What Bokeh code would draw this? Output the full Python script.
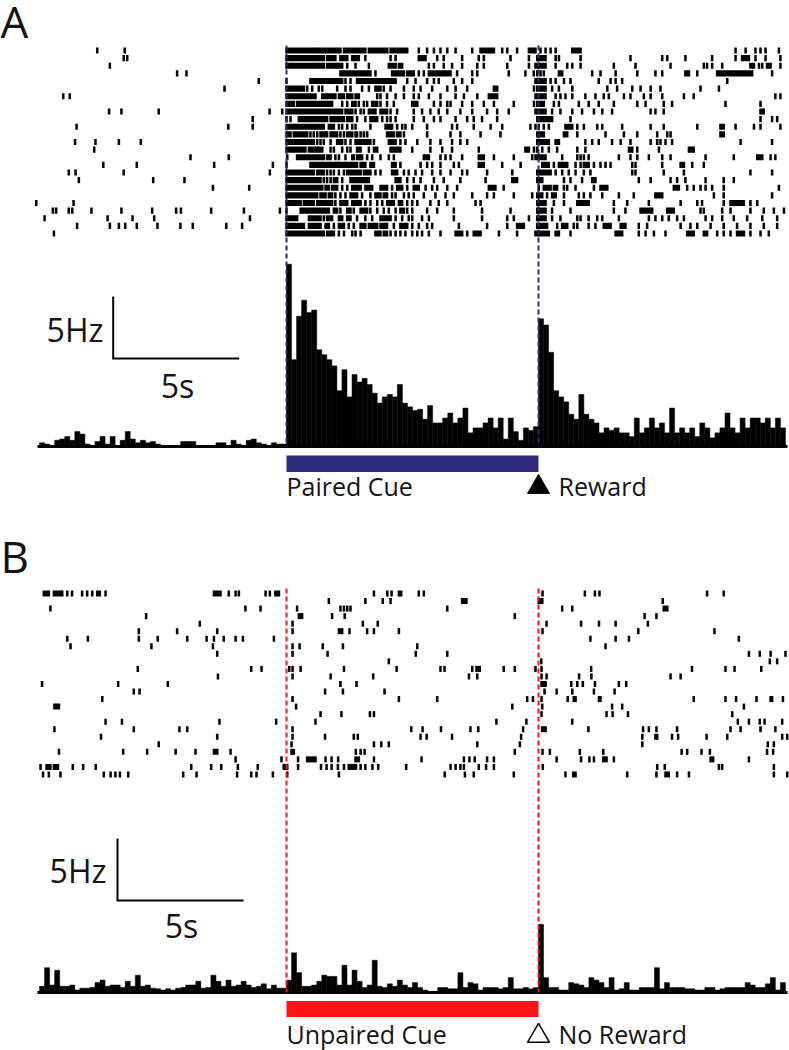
import numpy as np
from bokeh.plotting import figure
from bokeh.models import Range1d
from bokeh.core.properties import value
from bokeh.embed import file_html
from bokeh.resources import INLINE

# ---------------- data ----------------
cue_onset = 0.0
cue_offset = 10.0
reward_time = 10.0
bin_width = 0.2
first_bin = -9.8
scale_hz = 5.0
scale_s = 5.0

# PSTH (Hz), 0.2 s bins from -9.8 s
psth_a_pre = [0.3, 0.2, 0, 0.5, 0.6, 0.8, 0.5, 1.2, 1.0, 0.2, 0, 0.4, 0.8, 0.2, 0.8, 0, 0.5, 1.2, 0.6, 0.3,
              0.5, 0.3, 0.4, 0.2, 0, 0, 0, 0, 0.4, 0.4, 0.4, 0, 0, 0, 0, 0.3, 0.3, 0, 0.5, 0.2,
              0, 0.5, 0.6, 0.3, 0.2, 0, 0.3, 0.2, 0.2]
psth_a_cue = [14.7, 7.0, 10.5, 11.8, 10.8, 11.0, 7.8, 7.4, 7.0, 6.5, 4.5, 6.2, 4.0, 5.8, 5.2, 5.5, 5.0, 4.3, 3.5, 4.0,
              4.2, 4.0, 5.0, 3.5, 3.2, 2.9, 3.0, 2.2, 3.3, 1.9, 1.9, 2.3, 2.7, 1.9, 2.3, 3.1, 1.1, 1.5, 1.5, 1.9,
              2.3, 1.5, 2.3, 0.6, 2.3, 1.2, 0.5, 1.5, 1.3, 1.6]
psth_a_post = [10.3, 9.8, 7.6, 4.5, 4.0, 3.6, 2.6, 2.2, 4.2, 2.6, 2.2, 1.9, 1.1, 1.5, 1.3, 1.5, 1.1, 1.1, 0.8, 2.3,
               1.1, 1.5, 2.3, 1.5, 1.9, 1.1, 3.1, 1.1, 1.5, 1.1, 1.5, 0.8, 1.9, 1.5, 0.7, 1.1, 1.5, 2.7, 1.5, 1.1,
               2.3, 1.5, 2.3, 2.3, 1.9, 2.3, 1.5, 2.3, 1.5]
psth_b_pre = [0.5, 2.0, 0.6, 1.8, 0.5, 0.5, 0.6, 0.2, 0.35, 0.35, 0.4, 0.8, 1.0, 0.5, 0.6, 0.6, 0.4, 0.9, 0.5, 1.4,
              0.5, 0.6, 0.35, 0.3, 0.2, 0.3, 0.2, 0.35, 0.4, 0.6, 0.6, 0.9, 0.35, 0.4, 1.4, 0.9, 0.5, 1.0, 0.5, 0.6,
              0.9, 0.6, 0.4, 0.5, 0.7, 0.3, 0.6, 0.35, 0.35]
psth_b_cue = [1.0, 3.2, 1.6, 0.5, 0.5, 0.6, 0.9, 1.4, 1.3, 1.3, 0.6, 2.2, 0.6, 1.8, 0.9, 0.4, 0.6, 2.6, 0.5, 0.4,
              0.7, 0.5, 1.0, 0.6, 0.4, 0.8, 0.4, 0.2, 0, 0, 0.4, 0.4, 0.3, 0.3, 1.6, 0.4, 0.8, 0.7, 0.2, 0.4,
              0.4, 0.4, 0.3, 0.4, 1.2, 0.3, 0.3, 0.4, 0.3, 0.4]
psth_b_post = [5.5, 1.2, 0.4, 0.4, 0.2, 0.2, 0.8, 0.7, 0.6, 0.4, 1.2, 1.0, 0.8, 0.4, 1.2, 0.2, 0.3, 0.8, 0.2, 0.2,
               0.4, 0.4, 0.4, 2.0, 0.3, 0.8, 0.4, 0.4, 0.4, 0.3, 0.3, 0.2, 0.2, 0.4, 0.4, 0.2, 0.3, 0.4, 0.4, 0.4,
               0.4, 0.8, 0.6, 0.4, 0.4, 0.7, 1.2, 0.2, 0.8]

# Raster, panel A (paired cue): single spikes (s) and dense bursts [start, end] per trial
raster_a_spikes = [
    [-7.51, -6.42, 5.25, 5.58, 5.85, 6.11, 6.38, 6.71, 7.37, 8.56, 8.76, 9.15, 9.88, 10.08, 10.28, 10.48, 10.68, 17.82, 18.22, 18.61, 18.81, 19.01, 19.54],
    [-6.46, -6.32, 3.13, 4.13, 4.33, 5.98, 6.24, 6.97, 7.63, 7.83, 8.89, 9.62, 10.68, 10.81, 11.67, 13.65, 14.91, 15.11, 15.83, 16.89, 17.82, 18.61, 19.01, 19.6],
    [-7.01, 2.41, 2.74, 3.27, 5.65, 5.85, 6.24, 6.57, 6.97, 7.57, 7.83, 8.76, 9.62, 10.68, 11.14, 11.34, 11.67, 12.99, 13.85, 15.24, 16.56, 16.69, 16.89, 17.29, 18.75, 18.88, 19.6],
    [-4.34, -3.97, 3.53, 5.25, 5.45, 6.77, 7.37, 7.57, 8.82, 9.48, 9.81, 9.95, 10.08, 10.21, 12.13, 12.46, 13.06, 13.92, 14.64, 14.91, 16.3, 19.27],
    [-1.1, 0.0, 2.34, 2.54, 4.79, 5.12, 5.58, 5.85, 6.04, 6.64, 6.97, 7.37, 10.48, 10.68, 11.01, 11.27, 12.39, 12.86, 13.06, 13.32, 17.49],
    [-2.46, 0.82, 1.02, 1.28, 1.42, 2.01, 2.34, 2.54, 3.0, 3.27, 3.86, 4.13, 4.66, 5.05, 5.32, 5.78, 6.38, 6.71, 7.17, 9.82, 10.54, 10.81, 11.34, 12.73, 13.12, 13.72, 14.05, 14.45, 14.84, 16.43, 17.16],
    [-8.86, -8.6, 3.6, 3.73, 3.99, 4.33, 4.66, 5.05, 5.25, 5.65, 6.11, 6.71, 7.04, 7.57, 10.68, 10.87, 11.07, 11.34, 11.86, 12.26, 12.59, 12.79, 13.39, 13.65, 14.18, 14.45, 14.91, 15.77, 16.16, 19.4, 19.6],
    [2.21, 2.41, 2.87, 3.07, 3.2, 3.73, 3.99, 4.26, 5.85, 6.11, 6.38, 6.51, 6.97, 7.37, 7.83, 8.23, 9.02, 9.82, 10.61, 10.81, 11.6, 11.99, 12.39, 12.99, 13.92, 14.25, 14.97, 15.3, 17.42, 18.81],
    [-7.04, -6.55, -5.07, -0.67, -0.17, 2.74, 2.94, 3.07, 4.13, 4.39, 5.05, 5.38, 5.71, 6.04, 6.38, 6.9, 7.37, 7.96, 8.36, 8.82, 10.54, 10.87, 11.34, 11.73, 12.2, 12.53, 12.92, 14.45, 14.64, 14.97],
    [-1.34, 0.0, 0.16, 2.8, 3.13, 3.8, 3.99, 4.13, 4.33, 5.05, 5.45, 5.85, 6.11, 6.71, 7.17, 7.43, 7.76, 8.36, 11.27, 18.81, 19.27, 19.47],
    [-8.33, -2.31, -1.34, 2.08, 2.21, 2.41, 2.61, 2.74, 3.33, 4.19, 4.39, 4.59, 4.72, 4.99, 5.58, 6.57, 6.77, 7.43, 8.1, 8.56, 9.68, 9.88, 10.01, 10.21, 10.41, 11.54, 11.8, 12.33, 12.53, 13.32, 14.45, 14.97, 16.3, 17.82, 18.55, 18.81, 19.6],
    [0.95, 1.08, 1.22, 2.14, 2.28, 2.74, 2.8, 2.94, 3.07, 3.2, 4.66, 5.58, 6.51, 6.9, 7.7, 8.49, 11.54, 12.66, 13.39, 13.92, 14.71, 15.11, 15.24],
    [-8.39, -7.58, -6.65, -5.78, 1.22, 1.35, 1.48, 1.75, 2.34, 2.54, 3.47, 4.52, 4.72, 5.19, 5.71, 6.11, 6.57, 6.9, 7.17, 11.86, 12.13, 12.39, 12.92, 13.26, 13.65, 14.45, 14.71, 14.84, 15.04, 15.3, 18.02, 19.27],
    [-7.63, 1.75, 1.88, 2.21, 2.41, 2.54, 3.27, 4.99, 5.71, 6.18, 6.57, 7.63, 9.82, 9.95, 10.15, 10.41, 10.74, 11.54, 11.86, 13.92, 14.78],
    [-3.81, -2.29, 0.03, 1.94, 2.08, 2.34, 2.61, 2.67, 3.2, 3.4, 3.73, 4.06, 4.26, 6.11, 6.31, 6.51, 6.97, 8.23, 9.02, 9.75, 10.94, 11.54, 11.67, 11.8, 11.99, 13.19, 13.65, 13.92, 14.38, 14.91, 15.24, 16.63, 17.75, 19.21, 19.4],
    [-7.27, -5.94, -2.87, -0.54, 0.0, 4.52, 5.32, 5.58, 5.78, 6.11, 6.64, 6.84, 8.56, 9.29, 10.61, 11.47, 11.67, 12.2, 12.46, 12.66, 12.86, 13.72, 13.85, 14.91, 16.1, 16.56],
    [-8.64, -8.37, -6.46, -0.66, 1.61, 1.75, 1.88, 2.08, 2.28, 3.53, 3.73, 4.66, 4.85, 5.12, 5.38, 5.78, 6.11, 6.51, 6.97, 7.17, 7.96, 8.96, 10.68, 10.94, 11.2, 11.47, 11.8, 12.06, 13.72, 13.85, 14.97, 15.77, 18.41, 19.27],
    [-8.24, -5.29, -4.05, 1.35, 1.48, 1.61, 1.75, 2.21, 4.79, 5.05, 5.32, 5.85, 6.24, 6.9, 7.9, 11.01, 11.27, 11.73, 13.98, 14.45, 15.24, 15.5, 15.83, 16.63, 17.35, 17.75],
    [-2.92, -1.48, 2.21, 2.41, 4.19, 4.79, 5.52, 5.78, 5.98, 6.38, 6.77, 8.62, 10.01, 11.01, 11.14, 11.47, 12.2, 15.9, 16.16, 16.43, 16.63, 16.89, 17.35, 19.54],
    [1.94, 2.14, 2.34, 3.0, 3.33, 4.19, 4.33, 4.66, 4.85, 5.05, 5.45, 5.91, 6.31, 6.64, 7.37, 7.96, 8.23, 9.02, 9.75, 10.34, 11.01, 11.6, 11.8, 12.06, 12.53, 13.19, 13.78, 16.96, 17.35, 19.27],
    [-9.93, -8.45, 1.94, 3.13, 3.33, 3.6, 3.8, 4.79, 4.99, 5.19, 5.71, 6.04, 6.38, 7.5, 7.7, 10.61, 11.01, 12.99, 13.52, 14.38, 15.64, 16.3, 16.49, 17.35, 18.41, 18.68],
    [-9.27, -9.14, -8.64, -8.5, -7.74, -6.55, -5.33, -4.38, -4.19, -2.99, -1.69, -0.26, 0.0, 2.14, 2.67, 3.33, 3.6, 3.86, 4.06, 4.33, 4.79, 4.99, 5.58, 5.98, 6.64, 7.76, 8.89, 10.54, 11.27, 12.99, 13.45, 16.43, 16.56, 17.29, 17.62, 18.41, 18.94, 19.34, 19.74],
    [-9.6, -7.1, -6.11, -5.25, -1.45, 1.48, 2.8, 3.13, 3.4, 4.33, 4.59, 4.85, 4.99, 5.38, 5.65, 6.64, 7.76, 8.76, 9.02, 9.62, 10.54, 10.87, 11.54, 11.67, 11.99, 12.33, 12.53, 13.19, 14.38, 14.64, 14.91, 15.17, 15.5, 15.77, 16.63, 16.89, 17.29, 17.75, 18.28, 18.88, 19.47],
    [-8.31, -7.01, -6.65, -6.4, -5.94, -5.12, -4.21, -3.72, -2.39, -1.76, 1.88, 2.47, 2.67, 4.26, 4.99, 5.25, 5.58, 5.78, 6.84, 7.96, 8.76, 10.74, 11.4, 11.54, 11.99, 12.26, 13.98, 14.31, 15.64, 16.03, 16.3, 16.83, 17.35, 17.88, 18.41, 18.94, 19.47],
    [-9.23, 2.08, 2.28, 2.61, 2.74, 2.94, 4.13, 4.33, 4.52, 4.72, 4.99, 5.19, 5.38, 5.65, 6.11, 7.17, 8.43, 9.15, 11.27, 13.98, 14.25, 14.58, 15.04, 17.09, 17.35, 17.62, 18.41, 18.81, 19.14],
]
raster_a_bursts = [
    [[0, 1.08], [1.15, 2.14], [2.28, 3.13], [3.27, 4.0], [4.13, 4.79], [7.7, 8.23], [9.62, 9.81], [11.34, 11.67]],
    [[0, 0.16], [0.22, 1.48], [1.61, 1.94], [2.14, 2.41], [2.61, 2.87], [5.25, 5.52], [9.95, 10.28], [18.08, 18.35]],
    [[0, 1.22], [1.28, 1.48], [1.61, 1.94], [2.01, 2.21], [4.06, 4.33], [4.46, 4.59], [9.88, 10.28], [18.41, 18.55], [19.07, 19.21]],
    [[2.14, 3.33], [4.19, 4.39], [4.46, 4.66], [4.79, 5.05], [5.65, 6.18], [6.24, 6.51], [10.81, 10.94], [15.83, 15.97], [17.09, 18.48]],
    [[0.95, 1.48], [1.55, 1.88], [1.94, 2.21], [2.8, 3.47], [3.53, 4.13], [4.19, 4.33], [9.88, 10.28]],
    [[0, 0.69], [3.53, 3.73], [8.23, 8.36], [9.95, 10.28]],
    [[0, 0.75], [0.82, 1.15], [1.42, 1.94], [2.08, 2.28], [2.41, 2.61], [2.74, 2.87], [8.03, 8.36], [9.88, 10.28]],
    [[0, 0.29], [0.42, 1.81], [2.61, 2.74], [3.4, 3.6], [4.99, 5.19], [9.95, 10.21]],
    [[0, 2.21], [2.34, 2.61], [3.27, 3.53], [3.73, 3.99], [9.88, 10.28], [18.81, 18.94]],
    [[0.49, 1.61], [1.75, 2.28], [2.41, 2.61], [3.33, 3.6], [9.95, 10.54]],
    [[0, 0.95], [1.02, 1.48], [1.68, 1.88], [3.93, 4.13], [11.07, 11.34], [17.22, 17.35]],
    [[0, 0.16], [0.29, 0.82], [1.35, 1.61], [1.75, 2.01], [2.41, 2.61], [3.99, 4.26], [4.39, 4.52], [9.95, 10.21], [11.01, 11.14], [17.22, 17.35]],
    [[0, 1.08], [2.01, 2.21], [2.74, 3.33], [4.06, 4.33], [9.95, 10.41], [10.68, 10.81]],
    [[0, 0.75], [0.89, 1.22], [1.28, 1.42], [2.8, 2.94], [3.47, 3.6], [4.13, 4.52], [9.48, 9.62], [13.59, 13.72], [15.97, 16.16]],
    [[0.42, 1.48], [1.61, 1.75], [2.8, 3.0], [5.45, 5.65], [7.63, 7.83], [9.88, 10.28], [18.68, 18.88]],
    [[0.95, 1.94], [2.01, 2.8], [2.94, 3.13], [3.33, 3.47], [4.19, 4.33], [7.63, 7.83], [10.15, 10.41], [10.81, 11.14], [11.8, 11.99], [15.64, 15.77]],
    [[0, 1.08], [1.22, 1.48], [2.41, 2.94], [3.07, 3.33], [4.19, 4.39], [9.95, 10.48]],
    [[0, 1.28], [1.88, 2.01], [2.54, 3.27], [4.33, 4.52], [8.96, 9.15], [9.95, 10.15], [12.13, 12.26]],
    [[0, 1.08], [1.15, 1.42], [1.55, 1.68], [1.81, 2.01], [2.61, 2.94], [3.13, 3.4], [3.73, 3.99], [4.39, 4.59], [5.05, 5.25], [8.03, 8.29], [10.21, 10.48], [10.61, 10.74], [12.46, 12.73], [15.37, 15.57]],
    [[0, 1.22], [1.35, 1.55], [1.68, 1.81], [2.54, 2.8], [3.53, 3.73], [3.86, 3.99], [9.95, 10.15], [10.54, 10.68], [14.64, 14.91]],
    [[0, 0.56], [0.69, 1.08], [1.22, 1.61], [1.68, 1.81], [2.14, 2.41], [2.61, 2.94], [4.0, 4.26], [4.46, 4.59], [9.95, 10.28], [11.54, 11.99], [17.62, 18.15]],
    [[0.56, 1.35], [1.42, 1.68], [1.88, 2.01], [2.41, 2.54], [2.94, 3.2], [4.52, 4.66], [9.95, 10.28], [14.05, 14.51], [15.11, 15.37]],
    [[0, 0.42], [0.89, 1.35], [1.61, 1.81], [2.08, 2.21], [2.41, 2.54], [3.73, 4.13], [9.95, 10.28]],
    [[0, 0.69], [0.89, 1.35], [1.55, 1.68], [2.08, 2.28], [2.94, 3.13], [3.27, 3.6], [3.73, 3.99], [4.52, 4.79], [9.15, 9.42], [9.95, 10.34], [10.94, 11.14], [12.59, 12.86], [13.26, 13.45]],
    [[0, 1.48], [1.61, 1.88], [3.53, 3.73], [3.86, 3.99], [6.71, 6.97], [7.43, 7.7], [9.88, 10.41], [10.68, 10.81], [13.06, 13.32], [15.9, 16.16], [16.56, 16.69], [17.88, 18.15]],
]

# Raster, panel B (unpaired cue)
raster_b_spikes = [
    [-8.9, -8.7, -8.51, -8.11, -7.91, -7.71, -7.18, -2.29, -2.02, -1.89, -0.83, -0.66, 3.47, 4.0, 4.17, 5.25, 5.45, 10.16, 11.84, 12.24, 12.42, 16.69, 17.35],
    [1.68, 3.13, 3.82, 4.13, 14.93],
    [-9.37, -1.63, -1.03, 0.42, 2.14, 2.28, 2.41, 2.54, 6.38, 10.94, 11.34],
    [-5.57, 1.81, 2.31, 9.06, 14.21, 14.68],
    [-3.44, 0.24, 3.03, 3.62, 10.32, 11.69, 12.4, 13.06, 14.34],
    [-5.86, -4.34, -2.75, 0.24, 2.5, 3.2, 3.47, 4.46, 10.16, 13.96, 16.98],
    [-8.7, -7.88, -5.86, -5.11, -3.94, -3.17, -2.88, -2.49, -2.02, -1.73, -0.5, 12.06, 13.06, 13.59, 17.95],
    [-8.57, -5.36, -2.92, 0.24, 0.52, 1.44, 2.24, 5.19, 12.66],
    [-2.75, 0.24, 1.63, 5.13, 6.38, 18.35, 18.78, 19.21, 19.8],
    [4.06, 10.11, 19.18, 19.47],
    [-5.9, -1.4, -0.99, 0.11, 0.24, 0.56, 2.28, 4.37, 6.11, 6.27, 7.37, 8.62, 9.06, 9.88, 10.12, 12.09, 16.09, 17.42, 17.78, 18.84],
    [-2.72, 0.24, 1.75, 3.44, 7.24, 7.57, 10.12, 10.32, 11.61, 12.1, 15.24, 15.64],
    [-9.7, -6.68, -4.71, 2.14, 2.78, 11.3, 11.54, 11.76, 12.24, 13.19, 13.48],
    [-6.06, -5.83, 1.53, 2.24, 3.89, 10.24, 10.72, 11.34, 12.2, 13.02],
    [-7.31, 0.24, 4.46, 5.98, 9.55, 9.78, 10.12, 11.16, 16.16, 17.42, 17.84, 18.65, 19.7],
    [0.38, 8.96, 10.15, 12.92, 13.32, 18.15],
    [1.35, 2.18, 3.31, 3.47, 10.12, 12.7, 12.94, 13.55, 17.69],
    [-7.18, -6.53, -2.66, -0.41, 1.15, 8.33, 9.52, 11.34, 17.91, 18.35, 18.78, 18.97, 19.67],
    [-9.21, -6.06, -4.25, -3.94, 0.24, 4.95, 5.4, 6.13, 7.3, 7.61, 9.39, 11.98, 14.15, 14.38, 14.68, 15.5, 17.62, 18.02, 18.81, 19.4],
    [-7.36, -2.75, 0.24, 1.53, 2.67, 2.83, 5.32, 5.56, 6.57, 9.31, 14.12, 15.3, 15.54, 16.67, 17.49, 19.67, 19.87],
    [-5.07, 0.2, 3.47, 3.76, 4.06, 7.57, 9.26, 14.12, 19.1, 19.34],
    [-9.03, -6.48, -5.53, -4.4, -3.61, -2.22, 2.75, 2.94, 3.1, 9.06, 10.16, 10.45, 11.64, 12.57, 15.68, 15.9, 16.47, 16.8, 19.07, 19.31],
    [-2.02, -0.2, 0.46, 1.15, 1.55, 1.79, 2.05, 3.47, 5.36, 7.04, 7.26, 7.47, 7.96, 8.23, 10.72, 11.69, 12.02, 12.2, 12.99, 18.35],
    [-9.76, -8.48, -8.07, -7.57, -3.78, -2.99, -2.59, -1.93, -1.14, 0.46, 1.37, 1.59, 1.79, 2.04, 2.28, 2.76, 2.94, 3.13, 3.41, 3.64, 4.75, 6.51, 6.71, 6.9, 7.04, 7.63, 7.92, 8.23, 10.17, 14.71, 15.01, 17.16, 17.29, 19.34],
    [-9.66, -9.43, -8.97, -7.25, -6.98, -6.79, -6.61, -6.28, -4.1, -3.57, -1.96, -1.4, -1.19, -0.54, 0.03, 2.08, 6.28, 7.08, 7.43, 9.02, 11.07, 13.52, 14.68, 15.5, 15.97, 19.34, 19.87],
]
raster_b_bursts = [
    [[-9.63, -9.43], [-9.23, -8.97], [-7.51, -7.41], [-2.88, -2.62], [-0.44, -0.3], [4.46, 4.55]],
    [[6.97, 7.14], [10.01, 10.15]],
    [[14.97, 15.11]],
    [[0.49, 0.62]],
    [],
    [[2.08, 2.21]],
    [],
    [],
    [],
    [],
    [[7.54, 7.67]],
    [],
    [[10.12, 10.28]],
    [],
    [[11.4, 11.47], [12.4, 12.46], [19.21, 19.27]],
    [[-9.21, -9.03]],
    [],
    [],
    [[10.15, 10.28]],
    [[14.64, 14.71]],
    [],
    [[-2.88, -2.75], [0.2, 0.29]],
    [[0.82, 1.08], [2.74, 2.87], [12.57, 12.7], [16.83, 16.93]],
    [[-9.52, -9.37], [-9.23, -9.07], [-0.11, 0.03], [2.47, 2.67]],
    [[11.38, 11.47], [15.04, 15.17]],
]

# ---------------- layout (page pixels; the canvas starts at the page corner) ----------------
W, H = 789, 1050
PX_PER_S = 25.2
CUE_PX = 286.0          # page x of t = 0
PAGE_TOP, PAGE_BOT = 0.0, 1050.0
PX_PER_HZ = 12.4
T_START, T_END = (37 - CUE_PX) / PX_PER_S, (787 - CUE_PX) / PX_PER_S


def tx(px):
    return (px - CUE_PX) / PX_PER_S


def hz_range(zero_px):
    return Range1d(start=(zero_px - PAGE_BOT) / PX_PER_HZ, end=(zero_px - PAGE_TOP) / PX_PER_HZ)


def row_range(row1_px, spacing):
    return Range1d(start=1 + (PAGE_BOT - row1_px) / spacing, end=1 + (PAGE_TOP - row1_px) / spacing)


p = figure(width=W, height=H, output_backend="svg", toolbar_location=None,
           x_range=Range1d(tx(0), tx(W)), y_range=Range1d(PAGE_BOT, PAGE_TOP),
           x_axis_location=None, y_axis_location=None, min_border=0,
           outline_line_color=None, background_fill_color="white", border_fill_color="white")
p.xgrid.visible = False
p.ygrid.visible = False

# text anchors: y is the vertical middle of the capital letters
PANELS = {
    "A": dict(row1=50.0, spacing=7.625, zero=446.0, dash_top=45.0, color="#302a7c",
              sb_px=112.7, sb_hz=7.1, bar=(455.0, 471.5), text_mid=485.5, tri_y=486.6,
              hz_lbl=(103, 329), s_lbl=(177, 385), letter_mid=20.5,
              psth=(psth_a_pre, psth_a_cue, psth_a_post), spikes=raster_a_spikes, bursts=raster_a_bursts,
              cue_text="Paired Cue", rew_text="Reward", filled=True),
    "B": dict(row1=593.0, spacing=7.54, zero=992.0, dash_top=588.0, color="#ff1414",
              sb_px=117.0, sb_hz=7.42, bar=(1000.5, 1016.5), text_mid=1033.5, tri_y=1035.5,
              hz_lbl=(106, 870), s_lbl=(181, 925), letter_mid=555.0,
              psth=(psth_b_pre, psth_b_cue, psth_b_post), spikes=raster_b_spikes, bursts=raster_b_bursts,
              cue_text="Unpaired Cue", rew_text="No Reward", filled=False),
}

FONT = value("Open Sans")
TXT = "#141414"


def label(x, y, s, size, align="left"):
    p.text(x=[x], y=[y], text=[s], text_font=FONT, text_font_size=value(size),
           text_align=align, text_baseline="middle", text_color=TXT)


for name, c in PANELS.items():
    rname, hname = "rast" + name, "hz" + name
    p.extra_y_ranges[rname] = row_range(c["row1"], c["spacing"])
    p.extra_y_ranges[hname] = hz_range(c["zero"])

    # PSTH
    vals = np.array(c["psth"][0] + c["psth"][1] + c["psth"][2], dtype=float)
    left = first_bin + bin_width * np.arange(len(vals))
    p.quad(left=left, right=left + bin_width, bottom=0, top=vals, y_range_name=hname,
           fill_color="black", line_color="black", line_width=0.5)
    p.segment(x0=[T_START], y0=[0], x1=[T_END], y1=[0], y_range_name=hname,
              line_color="black", line_width=3.2)

    # raster ticks
    L, R, T, B = [], [], [], []
    hw, hh = 0.05, 0.40
    for i, (sp, bu) in enumerate(zip(c["spikes"], c["bursts"])):
        row = i + 1
        for t in sp:
            L.append(t - hw); R.append(t + hw); T.append(row - hh); B.append(row + hh)
        for t0, t1 in bu:
            L.append(t0 - hw); R.append(t1 + hw); T.append(row - hh); B.append(row + hh)
    p.quad(left=L, right=R, top=T, bottom=B, y_range_name=rname, fill_color="black", line_color=None)

    # cue / reward dashed markers
    p.segment(x0=[cue_onset, reward_time], x1=[cue_onset, reward_time],
              y0=[c["dash_top"]] * 2, y1=[c["zero"]] * 2,
              line_color=c["color"], line_width=2, line_dash="5 3")

    # scale bar
    sb_t = tx(c["sb_px"])
    p.line(x=[sb_t, sb_t, sb_t + scale_s], y=[c["sb_hz"] + scale_hz, c["sb_hz"], c["sb_hz"]],
           y_range_name=hname, line_color="black", line_width=2, line_join="miter")
    label(tx(c["hz_lbl"][0]), c["hz_lbl"][1], "5Hz", "32px", "right")
    label(tx(c["s_lbl"][0]), c["s_lbl"][1], "5s", "32px", "center")

    # cue bar
    p.quad(left=[cue_onset], right=[cue_offset], top=[c["bar"][0]], bottom=[c["bar"][1]],
           fill_color=c["color"], line_color=None)
    label(cue_onset, c["text_mid"], c["cue_text"], "25px")
    # reward triangle + label
    if c["filled"]:
        p.scatter(x=[reward_time], y=[c["tri_y"]], marker="triangle", size=22,
                  fill_color="black", line_color="black", line_width=1)
    else:
        p.scatter(x=[reward_time], y=[c["tri_y"]], marker="triangle", size=22,
                  fill_color="white", line_color="black", line_width=1.5)
    label(tx(558), c["text_mid"], c["rew_text"], "25px")

    # panel letter
    label(tx(0), c["letter_mid"], name, "44px")

open("out.html", "w").write(file_html(p, INLINE))
